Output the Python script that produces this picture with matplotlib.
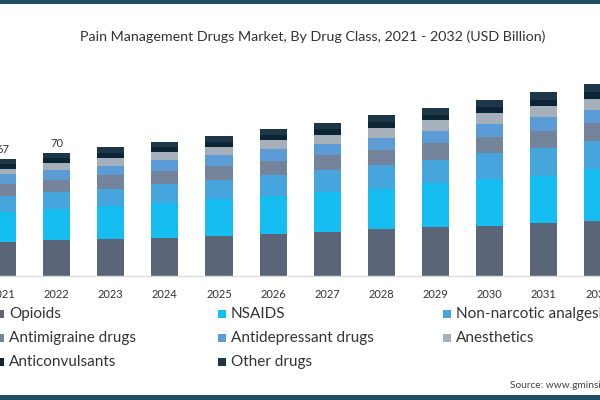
import matplotlib.pyplot as plt
from matplotlib.patches import Rectangle

plt.rcParams['font.family'] = ['Lato', 'DejaVu Sans']

# market by drug class, USD billion
years = ['2021', '2022', '2023', '2024', '2025', '2026', '2027', '2028', '2029', '2030', '2031', '2032']
opioids = [19.3, 20.3, 20.8, 21.8, 22.7, 23.7, 24.8, 26.5, 27.7, 28.6, 30.1, 31.4]
nsaids = [17.0, 18.0, 18.8, 19.9, 20.8, 22.0, 22.9, 23.1, 25.0, 26.5, 26.9, 29.4]
non_narcotic = [8.9, 9.5, 10.0, 10.4, 11.2, 11.6, 12.7, 13.3, 13.3, 14.6, 15.9, 16.1]
antimigraine = [6.8, 6.6, 7.6, 7.6, 7.8, 8.0, 8.3, 8.9, 9.5, 9.5, 9.7, 9.8]
antidepressant = [5.7, 5.7, 5.3, 6.1, 6.4, 6.6, 6.1, 6.6, 7.0, 7.2, 7.6, 7.6]
anesthetics = [3.2, 4.2, 4.7, 4.4, 4.4, 5.3, 5.5, 5.7, 5.9, 6.1, 6.4, 6.4]
anticonvulsants = [2.5, 2.6, 2.7, 2.8, 2.9, 3.0, 3.1, 3.2, 3.3, 3.5, 3.6, 3.7]
other_drugs = [3.1, 3.1, 3.2, 3.4, 3.4, 3.5, 3.7, 3.9, 3.9, 4.1, 4.2, 4.4]
total_labels = {0: '67', 1: '70'}

series = [
    ('Opioids', opioids, '#5a6577'),
    ('NSAIDS', nsaids, '#15bdf0'),
    ('Non-narcotic analgesics', non_narcotic, '#45a5dc'),
    ('Antimigraine drugs', antimigraine, '#74849a'),
    ('Antidepressant drugs', antidepressant, '#5b9bd6'),
    ('Anesthetics', anesthetics, '#a6b0ba'),
    ('Anticonvulsants', anticonvulsants, '#0c2535'),
    ('Other drugs', other_drugs, '#1c3748'),
]

fig = plt.figure(figsize=(6, 4), dpi=100)
ax = fig.add_axes([0, 0.31, 1, 0.54])

x = list(range(len(years)))
bottom = [0.0] * len(years)
for name, vals, col in series:
    ax.bar(x, vals, width=0.5, bottom=bottom, color=col, linewidth=0)
    bottom = [b + v for b, v in zip(bottom, vals)]

for i, txt in total_labels.items():
    ax.text(i, bottom[i] + 2.0, txt, ha='center', va='bottom', fontsize=8, color='#333333')

ax.set_xlim(-0.046, 11.04)
ax.set_ylim(0, 122.7)
ax.set_xticks(x)
ax.set_xticklabels(years, fontsize=8, color='#333333')
ax.tick_params(axis='x', length=0, pad=9)
ax.set_yticks([])
for s in ['top', 'right', 'left']:
    ax.spines[s].set_visible(False)
ax.spines['bottom'].set_color('#dcdcdc')
ax.spines['bottom'].set_linewidth(1)

# title
fig.text(0.5217, 1 - 37 / 400, 'Pain Management Drugs Market, By Drug Class, 2021 - 2032 (USD Billion)',
         ha='center', va='center', fontsize=10.3, color='#333333')

# legend laid out by hand in three columns
col_x = [0, 222, 447]
row_y = [314, 338, 362]
for k, (name, vals, col) in enumerate(series):
    r, c = divmod(k, 3)
    mx = col_x[c] / 600
    my = 1 - row_y[r] / 400
    fig.patches.append(Rectangle((mx - 4 / 600, my - 4 / 400), 8 / 600, 8 / 400,
                                 transform=fig.transFigure, color=col, linewidth=0))
    fig.text(mx + 9 / 600, my, name, ha='left', va='center', fontsize=11, color='#333333')

fig.text(510 / 600, 1 - 385 / 400, 'Source: www.gminsights.com', ha='left', va='center',
         fontsize=7.3, color='#444444')

# top and bottom bands
fig.patches.append(Rectangle((0, 1 - 4 / 400), 1, 4 / 400, transform=fig.transFigure,
                             color='#1f4d62', linewidth=0))
fig.patches.append(Rectangle((0, 0), 1, 5 / 400, transform=fig.transFigure,
                             color='#1f4d62', linewidth=0))

fig.savefig('out.png', dpi=100)
